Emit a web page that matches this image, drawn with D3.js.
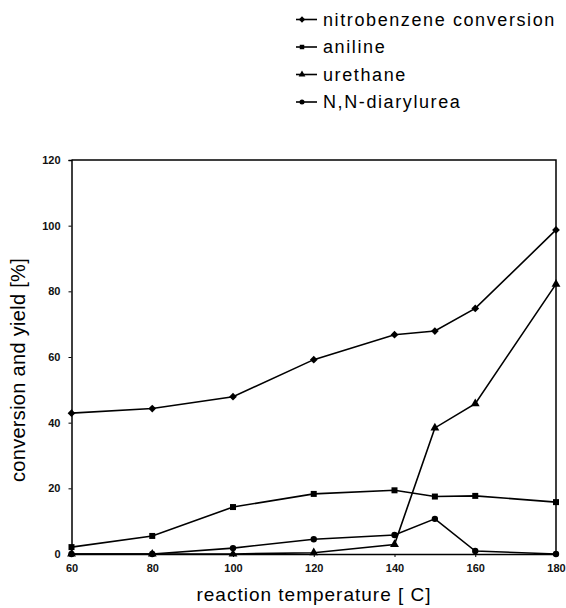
<!DOCTYPE html>
<html>
<head>
<meta charset="utf-8">
<script src="https://cdn.jsdelivr.net/npm/d3@7"></script>
<style>
  body { margin: 0; background: #fff; }
  svg { display: block; font-family: "Liberation Sans", Arial, sans-serif; }
</style>
</head>
<body>
<div id="chart"></div>
<script>
const temps = [60, 80, 100, 120, 140, 150, 160, 180];
const nitrobenzene = [42.9, 44.3, 47.9, 59.2, 66.8, 67.9, 74.8, 98.7];
const aniline = [2.1, 5.5, 14.3, 18.3, 19.4, 17.5, 17.7, 15.8];
const urethane = [0, 0, 0, 0.4, 2.9, 38.4, 45.8, 82.2];
const diarylurea = [0, 0, 1.8, 4.5, 5.8, 10.7, 0.9, 0];
const seriesNames = ['nitrobenzene conversion', 'aniline', 'urethane', 'N,N-diarylurea'];
const xTicks = [60, 80, 100, 120, 140, 160, 180];
const yTicks = [0, 20, 40, 60, 80, 100, 120];

const W = 566, H = 608;
const margin = { top: 160, right: 10, bottom: 54, left: 71.5 };
const width = W - margin.left - margin.right;
const height = H - margin.top - margin.bottom;

const svg = d3.select('#chart').append('svg')
  .attr('width', W)
  .attr('height', H);

const g = svg.append('g')
  .attr('transform', `translate(${margin.left}, ${margin.top})`);

const x = d3.scaleLinear().domain([60, 180]).range([0, width]);
const y = d3.scaleLinear().domain([0, 120]).range([height, 0]);

// diamond = square turned 45 degrees
const symbols = [d3.symbolSquare, d3.symbolSquare, d3.symbolTriangle, d3.symbolCircle];
const symRot = [45, 0, 0, 0];
const symSizes = [30, 36, 34, 32];
const allSeries = [nitrobenzene, aniline, urethane, diarylurea];

// frame (top and right)
g.append('path')
  .attr('d', `M0,0H${width}V${height}`)
  .attr('fill', 'none')
  .attr('stroke', '#000')
  .attr('stroke-width', 1.5);

// axes
const xAxis = g.append('g')
  .attr('transform', `translate(0, ${height})`)
  .call(d3.axisBottom(x).tickValues(xTicks).tickSize(3).tickPadding(6));
const yAxis = g.append('g')
  .call(d3.axisLeft(y).tickValues(yTicks).tickSize(3).tickPadding(5));

[xAxis, yAxis].forEach(a => {
  a.select('.domain').attr('stroke-width', 1.5);
  a.selectAll('text')
    .attr('font-size', 11)
    .attr('font-weight', 'bold')
    .attr('font-family', '"Liberation Sans", Arial, sans-serif')
    .attr('fill', '#111');
});
xAxis.selectAll('text').attr('dy', '0.85em');
yAxis.selectAll('text').attr('dx', '-3');

// lines + markers
const line = d3.line()
  .x((d, i) => x(temps[i]))
  .y(d => y(d));

allSeries.forEach((vals, k) => {
  g.append('path')
    .datum(vals)
    .attr('fill', 'none')
    .attr('stroke', '#000')
    .attr('stroke-width', 1.6)
    .attr('d', line);

  g.selectAll(null)
    .data(vals)
    .enter()
    .append('path')
    .attr('transform', (d, i) => `translate(${x(temps[i])}, ${y(d)}) rotate(${symRot[k]})`)
    .attr('d', d3.symbol().type(symbols[k]).size(symSizes[k]))
    .attr('fill', '#000');
});

// axis titles
svg.append('text')
  .attr('x', 314)
  .attr('y', 601)
  .attr('text-anchor', 'middle')
  .attr('font-size', 19)
  .attr('letter-spacing', 1)
  .text('reaction temperature [ C]');

svg.append('text')
  .attr('transform', 'rotate(-90)')
  .attr('x', -370)
  .attr('y', 25)
  .attr('text-anchor', 'middle')
  .attr('font-size', 20)
  .attr('letter-spacing', 0.3)
  .text('conversion and yield [%]');

// legend
const legend = svg.append('g').attr('transform', 'translate(296, 19.5)');
seriesNames.forEach((name, k) => {
  const row = legend.append('g').attr('transform', `translate(0, ${k * 27.5})`);
  row.append('line')
    .attr('x1', 0).attr('x2', 21)
    .attr('stroke', '#000').attr('stroke-width', 1.6);
  row.append('path')
    .attr('transform', `translate(6, 0) rotate(${symRot[k]})`)
    .attr('d', d3.symbol().type(symbols[k]).size(20))
    .attr('fill', '#000');
  row.append('text')
    .attr('x', 27)
    .attr('dy', '0.36em')
    .attr('font-size', 18)
    .attr('letter-spacing', 1.6)
    .text(name);
});
</script>
</body>
</html>
